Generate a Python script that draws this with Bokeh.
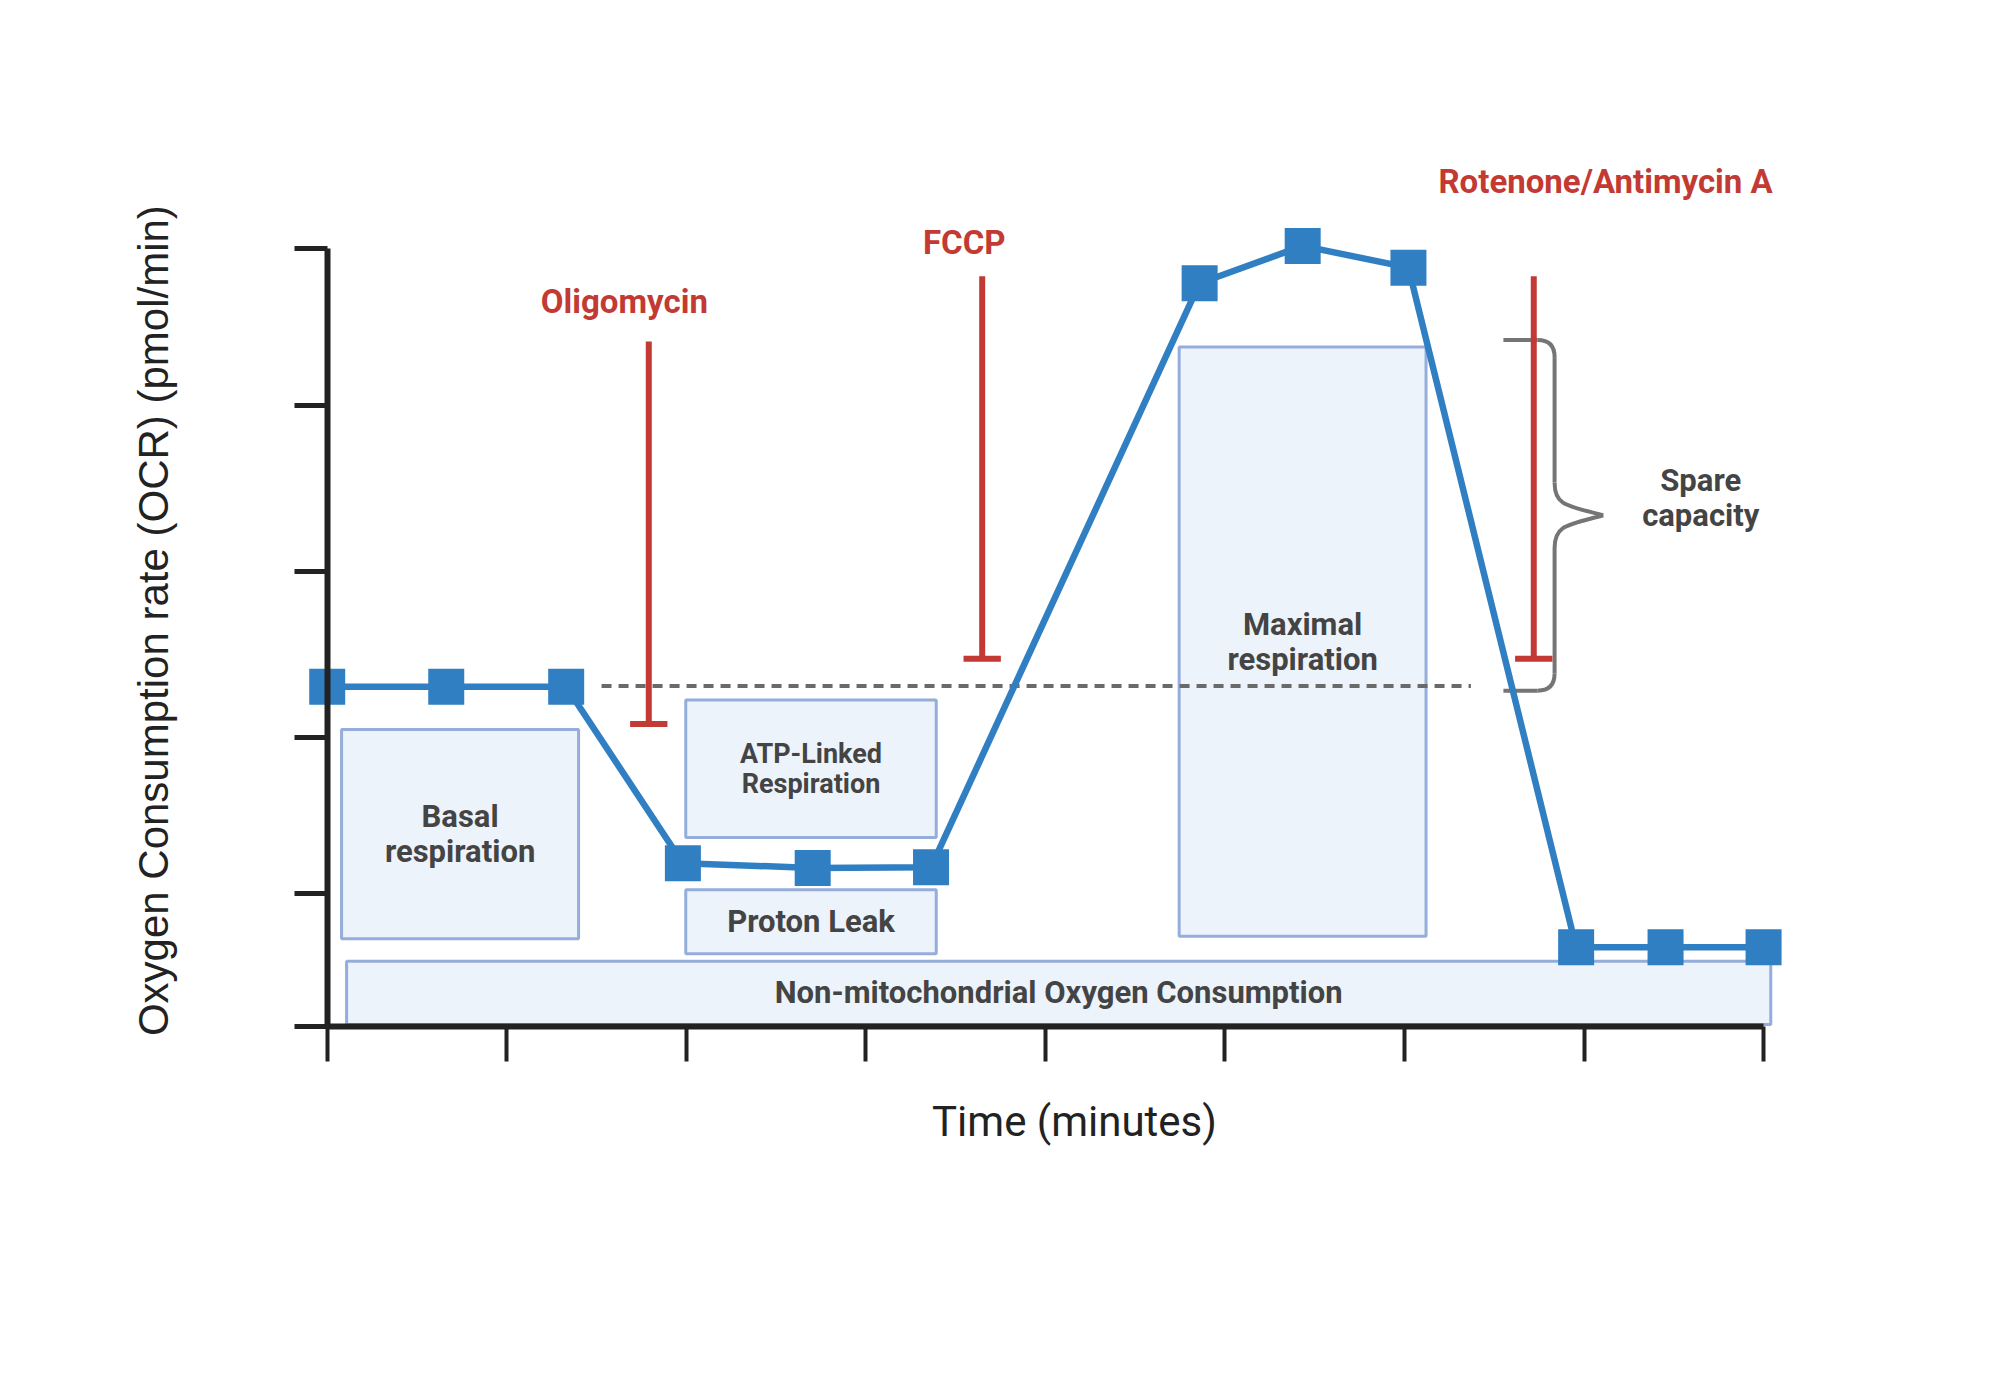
import math
from bokeh.plotting import figure
from bokeh.models import Range1d, FixedTicker, CustomJSTickFormatter
from bokeh.core.properties import value
from bokeh.embed import file_html
from bokeh.resources import INLINE

# ---------------- data ----------------
time_pts = [0, 0.663, 1.331, 1.981, 2.704, 3.363, 4.859, 5.433, 6.022, 6.956, 7.454, 8.0]
ocr_pts = [43.7, 43.7, 43.7, 21.0, 20.4, 20.5, 95.6, 100.4, 97.6, 10.2, 10.2, 10.2]

x_ticks = [0, 1, 2, 3, 4, 5, 6, 7, 8]
y_ticks = [0, 17.07, 37.14, 58.5, 79.9, 100]

box_names = ["Basal\nrespiration", "ATP-Linked\nRespiration", "Proton Leak",
             "Maximal\nrespiration", "Non-mitochondrial Oxygen Consumption"]
box_left = [0.08, 1.997, 1.997, 4.745, 0.108]
box_right = [1.40, 3.392, 3.392, 6.12, 8.04]
box_bottom = [11.3, 24.3, 9.35, 11.6, 0.26]
box_top = [38.2, 42.0, 17.6, 87.4, 8.4]
box_font = ["31px", "27px", "31px", "31px", "31px"]

drug_names = ["Oligomycin", "FCCP", "Rotenone/Antimycin A"]
drug_x = [1.791, 3.648, 6.720]
drug_top = [88.1, 96.5, 96.5]
drug_bottom = [38.9, 47.3, 47.3]
drug_label_x = [1.655, 3.548, 7.12]
drug_label_y = [93.2, 100.8, 108.7]

basal_level = 43.8
basal_line_x = [1.528, 6.37]

brace_top = 88.3
brace_bottom = 43.2
brace_x = 6.836
brace_arm_x = 6.551
brace_tip_x = 7.107
spare_label = "Spare\ncapacity"
spare_x = 7.65
spare_y = 68.0

# ---------------- styling ----------------
BLUE = "#317fc3"
RED = "#c23a33"
TXT = "#444444"
AX = "#222222"
BOX_FILL = "#ecf3fb"
BOX_LINE = "#95addb"
GRAY = "#6a6a6a"

p = figure(width=1984, height=1384, output_backend="svg", toolbar_location=None,
           x_range=Range1d(-1.8196, 9.2304), y_range=Range1d(-46.04, 131.96),
           min_border=0, outline_line_color=None)
p.xgrid.visible = False
p.ygrid.visible = False
p.background_fill_color = "white"

# axes drawn at the origin, limited to the data extent
for ax, ticks, bnds, tick_len, tw in [(p.xaxis[0], x_ticks, (0, 8), 35, 4),
                                      (p.yaxis[0], y_ticks, (0, 100), 33, 5)]:
    ax.fixed_location = 0
    ax.bounds = bnds
    ax.ticker = FixedTicker(ticks=ticks)
    ax.formatter = CustomJSTickFormatter(code="return ''")
    ax.major_tick_out = tick_len
    ax.major_tick_in = 0
    ax.minor_tick_line_color = None
    ax.axis_line_width = 6
    ax.axis_line_color = AX
    ax.major_tick_line_width = tw
    ax.major_tick_line_color = AX
    ax.major_label_standoff = 0

# boxes
p.quad(left=box_left, right=box_right, bottom=box_bottom, top=box_top,
       fill_color=BOX_FILL, line_color=BOX_LINE, line_width=3)
cx = [(l + r) / 2 for l, r in zip(box_left, box_right)]
cy = [(b + t) / 2 for b, t in zip(box_bottom, box_top)]
for i in range(len(box_names)):
    p.text(x=[cx[i]], y=[cy[i]], text=[box_names[i]], text_align="center",
           text_baseline="middle", text_font=value("Roboto"), text_font_style="bold",
           text_font_size=box_font[i], text_color=TXT, text_line_height=0.95)

# basal reference dashed line
p.line(x=basal_line_x, y=[basal_level, basal_level], line_color=GRAY,
       line_width=4, line_dash="10 7")

# brace for spare capacity
rx, ry = 0.095, 2.2
mid = (brace_top + brace_bottom) / 2
neck = 4.2
w = brace_tip_x - brace_x
BR = "#757575"
p.segment(x0=[brace_arm_x, brace_x, brace_x, brace_arm_x],
          y0=[brace_top, brace_top - ry, mid - neck, brace_bottom],
          x1=[brace_x - rx, brace_x, brace_x, brace_x - rx],
          y1=[brace_top, mid + neck, brace_bottom + ry, brace_bottom],
          line_color=BR, line_width=4)
p.quadratic(x0=[brace_x - rx, brace_x], y0=[brace_top, brace_bottom + ry],
            x1=[brace_x, brace_x - rx], y1=[brace_top - ry, brace_bottom],
            cx=[brace_x, brace_x], cy=[brace_top, brace_bottom],
            line_color=BR, line_width=4)
p.bezier(x0=[brace_x, brace_x], y0=[mid + neck, mid - neck],
         x1=[brace_tip_x, brace_tip_x], y1=[mid, mid],
         cx0=[brace_x, brace_x], cy0=[mid + neck * 0.3, mid - neck * 0.3],
         cx1=[brace_x + 0.25 * w, brace_x + 0.25 * w], cy1=[mid + neck * 0.3, mid - neck * 0.3],
         line_color=BR, line_width=4)
p.text(x=[spare_x], y=[spare_y], text=[spare_label], text_align="center",
       text_baseline="middle", text_font=value("Roboto"), text_font_style="bold",
       text_font_size="31px", text_color=TXT, text_line_height=0.95)

# drug injections (inhibitor T-bars)
hw = 0.104
p.segment(x0=drug_x, y0=drug_bottom, x1=drug_x, y1=drug_top,
          line_color=RED, line_width=6, line_cap="butt")
p.segment(x0=[x - hw for x in drug_x], y0=drug_bottom,
          x1=[x + hw for x in drug_x], y1=drug_bottom,
          line_color=RED, line_width=6, line_cap="butt")
p.text(x=drug_label_x, y=drug_label_y, text=drug_names, text_align="center",
       text_baseline="middle", text_font=value("Roboto"), text_font_style="bold",
       text_font_size="33px", text_color=RED)

# OCR trace
p.line(x=time_pts, y=ocr_pts, line_color=BLUE, line_width=6.5)
p.scatter(x=time_pts, y=ocr_pts, marker="square", size=36, fill_color=BLUE,
          line_color=BLUE, line_width=0)

# axis titles
p.text(x=[4.162], y=[-12.2], text=["Time (minutes)"], text_align="center",
       text_baseline="middle", text_font=value("Roboto"), text_font_size="42px",
       text_color=AX)
p.text(x=[-0.967], y=[52.2], text=["Oxygen Consumption rate (OCR) (pmol/min)"],
       text_align="center", text_baseline="middle", angle=math.pi / 2,
       text_font=value("Liberation Sans"), text_font_size="42px", text_color=AX)

open("out.html", "w").write(file_html(p, INLINE))
